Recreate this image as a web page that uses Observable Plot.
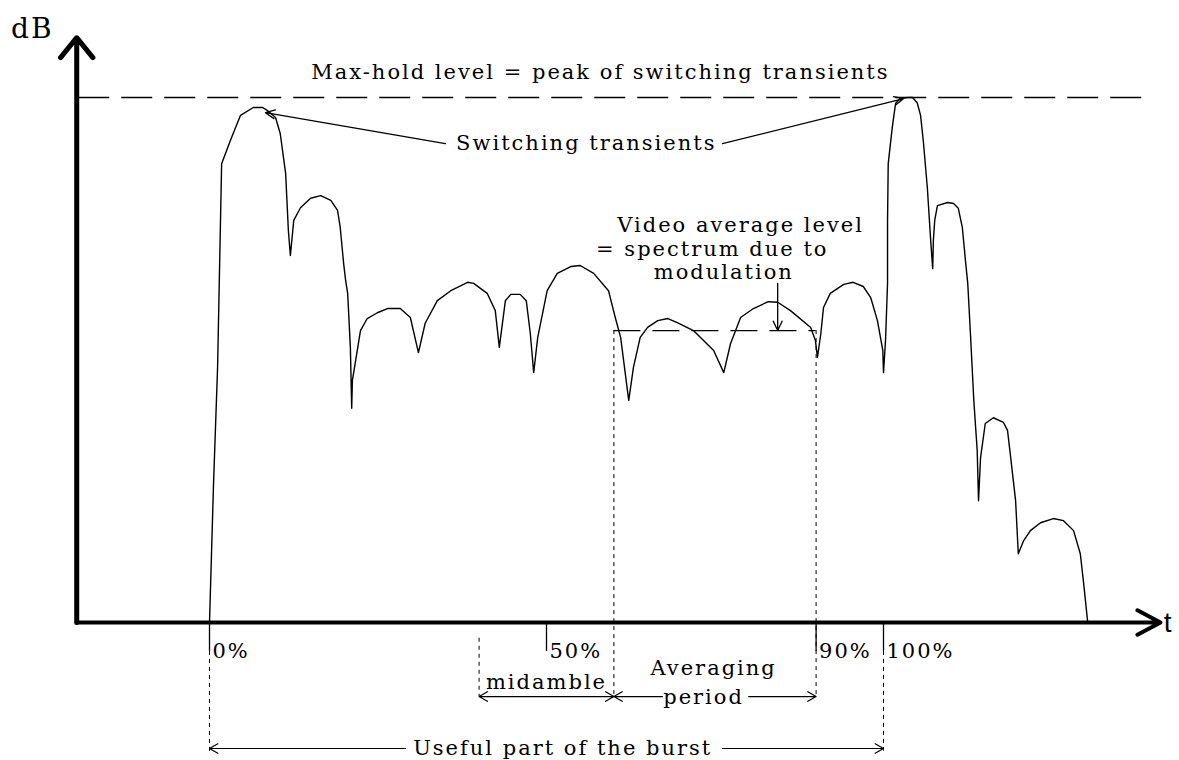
<!DOCTYPE html>
<html>
<head>
<meta charset="utf-8">
<script src="https://cdn.jsdelivr.net/npm/d3@7"></script>
<script src="https://cdn.jsdelivr.net/npm/@observablehq/plot@0.6"></script>
<style>
  html, body { margin: 0; padding: 0; background: #fff; }
</style>
</head>
<body>
<div id="chart"></div>
<script>
// ---- Curve: burst power envelope (t in % of useful burst, level in relative dB units; max-hold = 100)
const curveT = [0,0.6,1.2,1.8,3.1,4.6,6.5,7.9,8.6,9.8,10.5,11.3,11.7,12.0,12.5,13.5,15.0,16.5,18.0,19.0,19.4,19.9,20.2,20.5,20.9,21.1,21.2,22.0,22.4,23.4,24.9,26.4,28.3,29.8,31.0,32.0,33.8,35.8,38.3,39.2,41.2,42.4,43.0,43.9,44.7,46.1,47.0,47.6,48.1,48.7,50.1,51.6,53.6,55.0,57.0,59.2,60.2,61.0,62.2,62.9,63.9,65.0,66.5,68.0,69.4,71.8,74.8,76.3,77.3,78.8,80.7,82.9,84.3,86.2,89.2,89.9,90.2,90.7,91.1,92.1,94.1,95.5,97.0,98.1,99.1,99.9,100.0,100.3,100.6,100.6,100.7,101.3,101.8,102.5,103.6,104.3,105.0,105.5,105.9,106.5,107.0,107.3,107.4,107.6,108.0,109.5,110.4,111.1,111.7,112.2,112.5,112.9,113.4,113.9,114.1,114.4,115.1,116.3,117.8,118.4,118.8,119.6,120.0,120.8,121.8,123.3,125.2,126.7,128.2,129.2,129.7,130.3];
const curveDB = [0,26.5,48.6,87.4,91.8,96.6,98.1,98.1,97.5,96.2,93.1,85.5,74.7,69.9,76.6,79.0,80.8,81.3,80.4,78.5,75.2,68.4,65.1,62.7,52.4,40.8,46.1,52.4,55.6,57.9,59.0,59.8,59.8,58.1,51.4,57.0,61.3,63.2,64.8,64.6,62.7,59.4,52.4,61.3,62.5,62.5,61.3,55.0,47.6,54.3,63.2,66.5,67.8,68.0,66.5,63.2,58.1,54.3,42.3,48.6,54.3,56.2,57.5,57.9,57.1,55.6,51.8,47.6,53.1,58.1,59.8,61.1,61.0,59.4,56.2,53.7,50.5,55.0,60.0,62.7,64.4,64.8,64.0,61.9,57.5,51.8,47.6,53.7,64.6,76.6,87.4,94.3,98.9,99.8,100,100,99.0,96.6,91.8,82.9,72.8,67.4,72.8,76.6,79.4,80.0,79.8,78.9,75.2,68.4,64.6,55.0,42.3,32.8,23.2,31.4,37.9,39.0,38.1,36.6,32.2,23.2,13.1,15.6,17.5,19.0,19.8,19.4,17.5,13.1,7.4,0];

// ---- Reference levels and periods
const maxHoldLevel = 100;
const avgLevel = 55.6;
const averagingPeriod = [60, 90];
const midamblePeriod = [40, 60];
const usefulPart = [0, 100];

// ---- Axes extents (in data units)
const axisT0 = -19.7;      // position of the dB axis
const axisTopDB = 111.4;   // top of dB arrow
const axisEndT = 141.1;    // tip of t arrow
const maxHoldSpan = [-19.4, 140.1];

// ---- Ticks
const tickPct = [0, 50, 90, 100];
const tickLabels = ["0%", "50%", "90%", "100%"];
const tickBottom = -5.5;

// ---- Dotted guide lines
const guideT      = [0, 40, 60, 90, 100];
const guideTop    = [-5.5, -3.0, 55.6, 55.6, -5.5];
const guideBottom = [-25.0, -14.1, -14.1, -14.1, -24.5];

// ---- Dimension arrow levels
const midambleRowDB = -14.1;
const usefulRowDB = -24.0;

// ---- Text annotations
const noteText = ["Max-hold level = peak of switching transients", "Switching transients",
  "Video average level", "= spectrum due to", "modulation",
  "midamble", "Averaging", "period", "Useful part of the burst"];
const noteT  = [58.0, 55.9, 78.8, 74.6, 76.3, 50.0, 74.8, 73.3, 52.4];
const noteDB = [104.8, 91.2, 75.6, 71.0, 66.7, -11.4, -8.8, -14.3, -24.0];

// ---- Annotation arrows: [fromT, fromDB, toT, toDB]
const pointerFromT  = [35.0, 76.1, 84.3];
const pointerFromDB = [91.2, 91.2, 64.6];
const pointerToT    = [8.3, 103.0, 84.3];
const pointerToDB   = [97.1, 99.8, 55.6];

// dimension arrows (horizontal): from -> to (head at "to")
const dimFromT = [50, 50, 67.2, 80.0, 29.1, 76.1];
const dimToT   = [40, 60, 60, 90, 0, 100];
const dimDB    = [midambleRowDB, midambleRowDB, midambleRowDB, midambleRowDB, usefulRowDB, usefulRowDB];

const curve = curveT.map((t, i) => ({t, db: curveDB[i]}));
const notes = noteText.map((s, i) => ({s, t: noteT[i], db: noteDB[i]}));
const pointers = pointerFromT.map((v, i) => ({x1: v, y1: pointerFromDB[i], x2: pointerToT[i], y2: pointerToDB[i]}));
const dims = dimFromT.map((v, i) => ({x1: v, x2: dimToT[i], y: dimDB[i]}));
const guides = guideT.map((t, i) => ({t, y1: guideTop[i], y2: guideBottom[i]}));
const ticks = tickPct.map((t, i) => ({t, label: tickLabels[i]}));

const serif = "DejaVu Serif";
const fs = 21;

const chart = Plot.plot({
  width: 1179,
  height: 760,
  margin: 0,
  style: {background: "#fff", color: "#000", letterSpacing: "2px"},
  x: {domain: [0, 100], range: [209, 883], axis: null},
  y: {domain: [0, 100], range: [622, 97], axis: null},
  marks: [
    // dotted guides
    Plot.ruleX(guides, {x: "t", y1: "y1", y2: "y2", stroke: "#000", strokeWidth: 1, strokeDasharray: "4,4"}),
    // max-hold dashed line
    Plot.ruleY([maxHoldLevel], {x1: maxHoldSpan[0], x2: maxHoldSpan[1], stroke: "#000", strokeWidth: 1.3, strokeDasharray: "31,12"}),
    // video average dashed line
    Plot.ruleY([avgLevel], {x1: averagingPeriod[0], x2: averagingPeriod[1], stroke: "#000", strokeWidth: 1.3, strokeDasharray: "27,12"}),
    // curve
    Plot.line(curve, {x: "t", y: "db", stroke: "#000", strokeWidth: 1.4, strokeLinejoin: "round"}),
    // ticks
    Plot.ruleX(ticks, {x: "t", y1: 0, y2: tickBottom, stroke: "#000", strokeWidth: 1.3}),
    Plot.text(ticks, {x: "t", y: tickBottom, text: "label", textAnchor: "start", dx: 3, dy: 0, fontFamily: serif, fontSize: fs, fill: "#000"}),
    // axes with arrowheads
    Plot.arrow([{x1: axisT0, y1: 0, x2: axisT0, y2: axisTopDB}], {x1: "x1", y1: "y1", x2: "x2", y2: "y2", stroke: "#000", strokeWidth: 5, headLength: 7.7, headAngle: 78}),
    Plot.arrow([{x1: axisT0, y1: 0, x2: axisEndT, y2: 0}], {x1: "x1", y1: "y1", x2: "x2", y2: "y2", stroke: "#000", strokeWidth: 4, headLength: 9.8, headAngle: 56}),
    // pointers
    Plot.arrow(pointers, {x1: "x1", y1: "y1", x2: "x2", y2: "y2", stroke: "#000", strokeWidth: 1.3, headLength: 12, headAngle: 50}),
    // dimension arrows
    Plot.arrow(dims, {x1: "x1", y1: "y", x2: "x2", y2: "y", stroke: "#000", strokeWidth: 1.2, headLength: 12, headAngle: 60}),
    // notes
    Plot.text(notes, {x: "t", y: "db", text: "s", fontFamily: serif, fontSize: fs, fill: "#000"}),
    // axis labels
    Plot.text(["dB"], {x: -26.3, y: 113, text: d => d, fontFamily: serif, fontSize: 28, fill: "#000"}),
    Plot.text(["t"], {x: 142.3, y: 0, text: d => d, fontFamily: "Liberation Sans", fontSize: 28, fill: "#000", dy: 1})
  ]
});
document.getElementById("chart").appendChild(chart);
</script>
</body>
</html>
